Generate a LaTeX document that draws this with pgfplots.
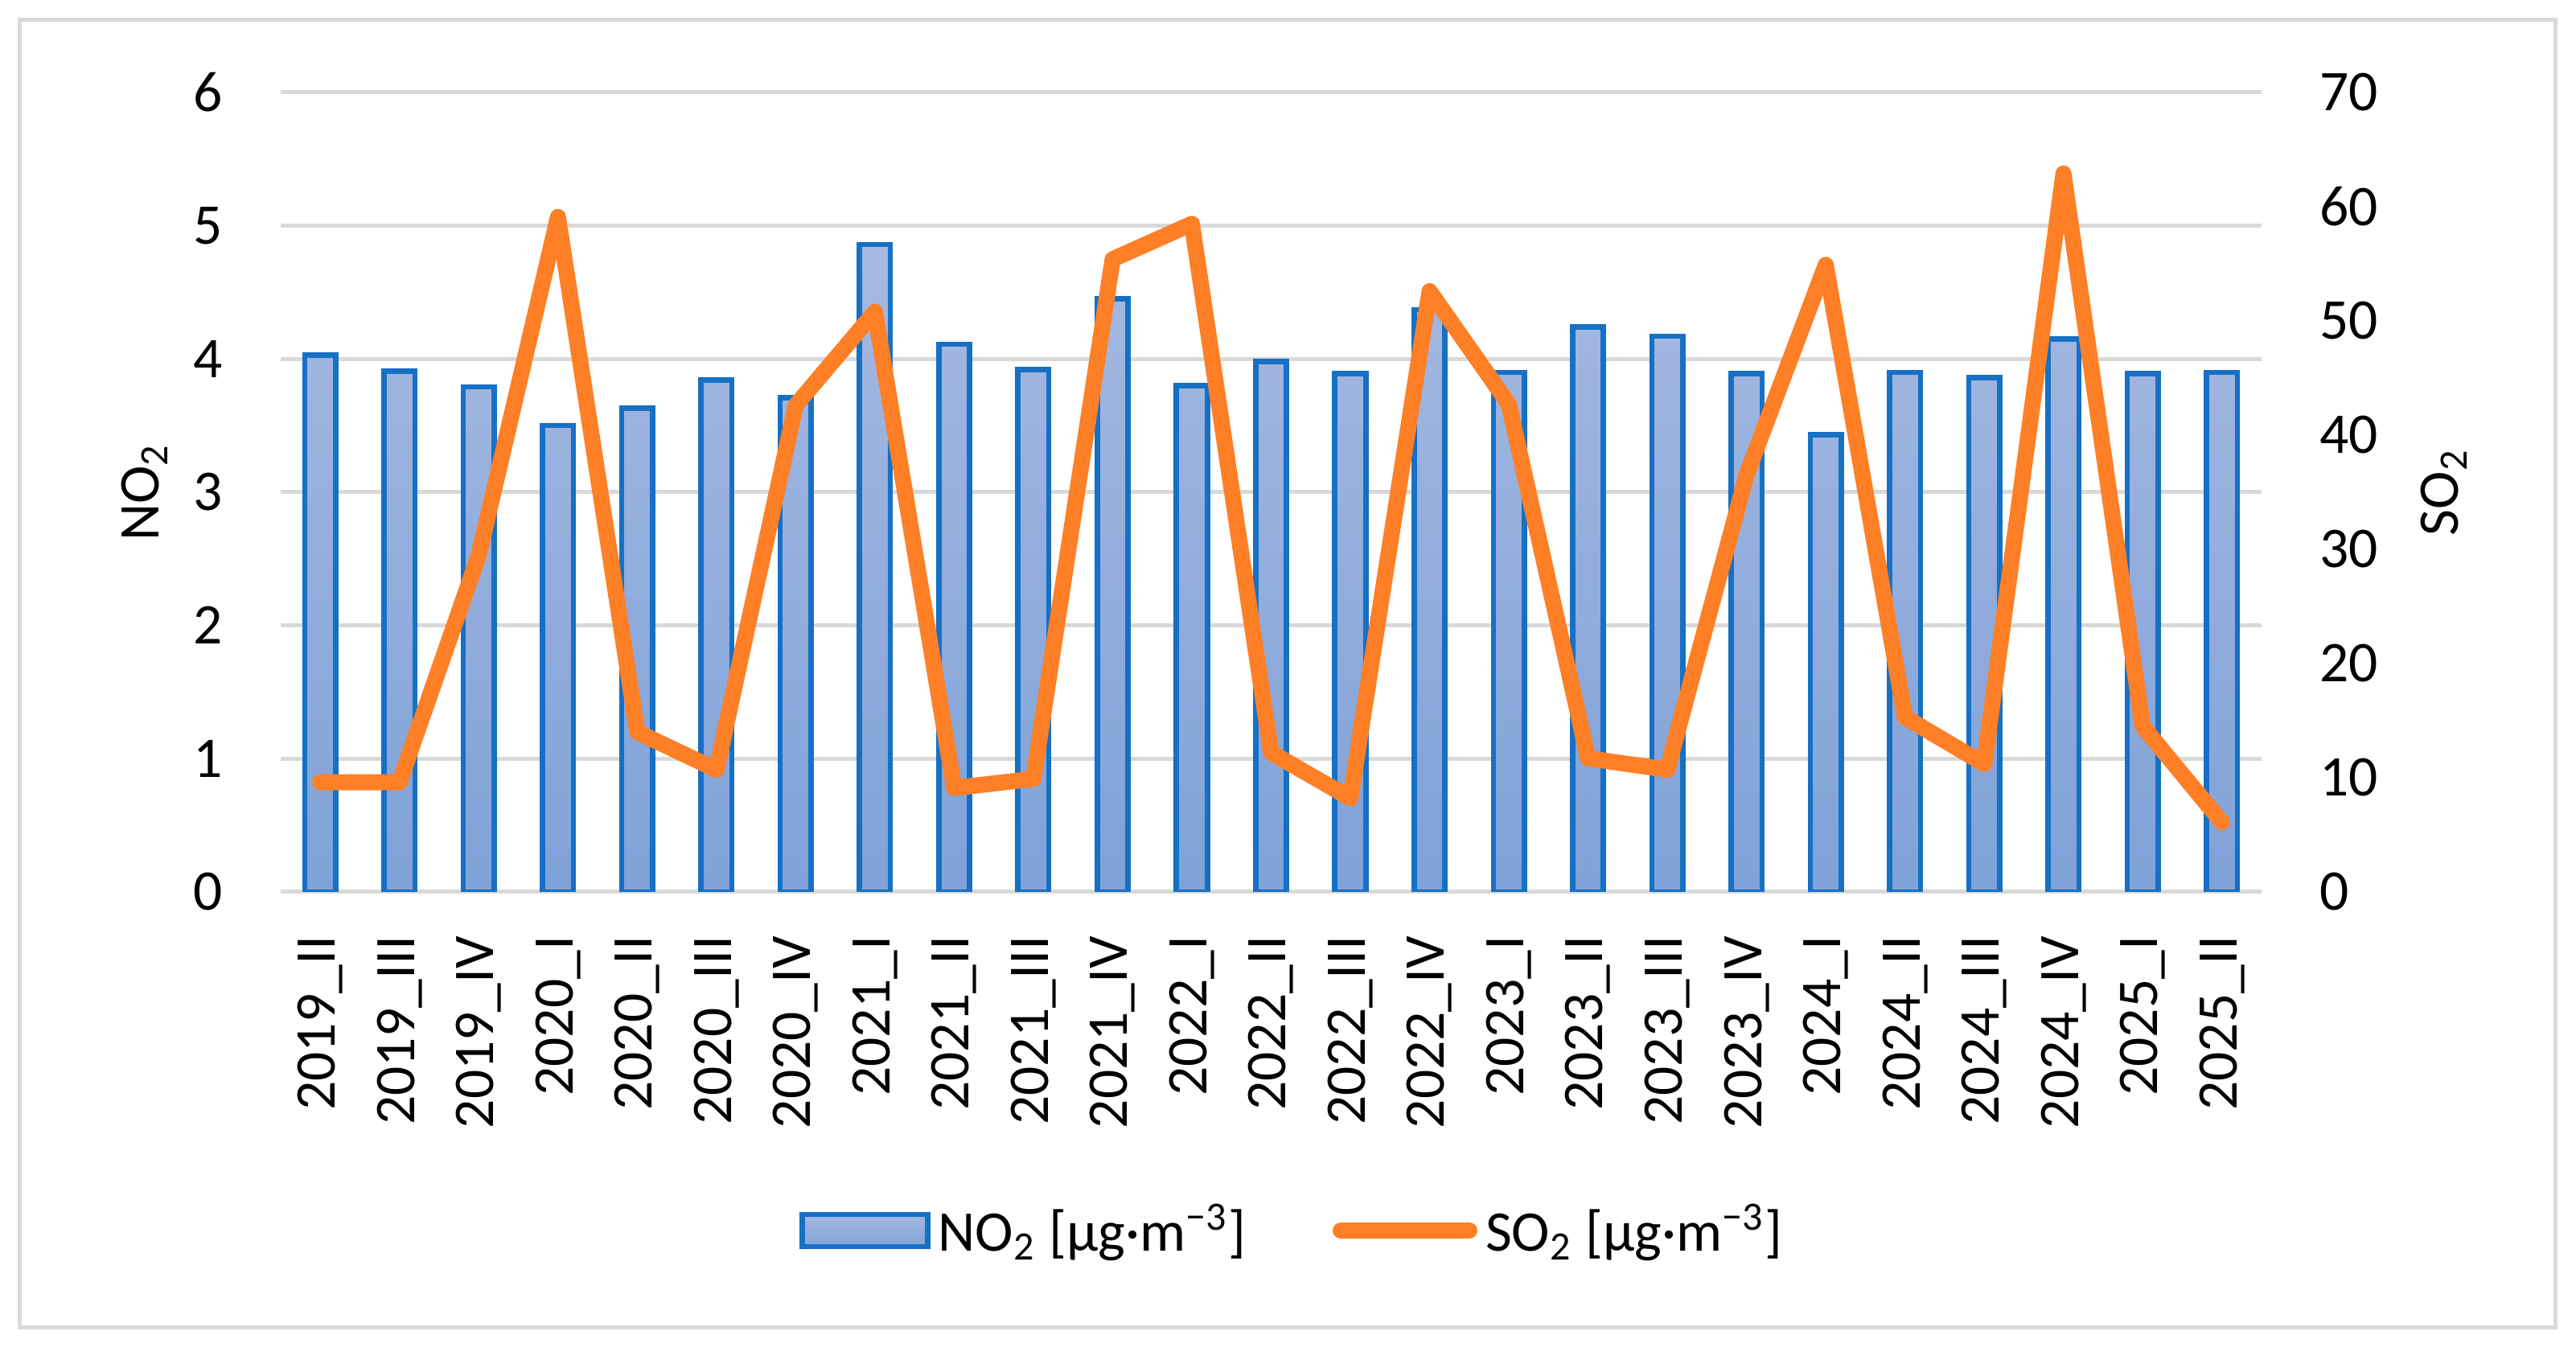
\documentclass[border=0pt]{standalone}
\usepackage{fontspec}
\setmainfont{Carlito}
\usepackage{pgfplots}
\usepackage{pgfplotstable}
\pgfplotsset{compat=1.18}

\definecolor{barline}{HTML}{1670C4}
\definecolor{bartop}{HTML}{A6B9E1}
\definecolor{barbot}{HTML}{7FA2D8}
\definecolor{sotwo}{HTML}{FE7F26}
\definecolor{gridgray}{HTML}{D9D9D9}
\newcommand{\lbl}{\fontsize{14.3}{17}\selectfont}

\pgfplotsset{
  common/.style={
    at={(69.8pt,114.4pt)}, anchor=south west,
    scale only axis, width=492.6pt, height=198.8pt,
    xmin=-0.5, xmax=24.5,
    axis line style={draw=none},
    major tick length=0pt,
    tick label style={font=\lbl},
    /pgf/number format/assume math mode=true,
    label style={font=\lbl},
  },
  barstyle/.style={draw=barline, line width=1.33pt, top color=bartop, bottom color=barbot},
  barlegend/.style={legend image code/.code={\draw[##1] (0pt,-4pt) rectangle (31.2pt,4pt);}},
  linelegend/.style={legend image code/.code={\draw[##1] (1.8pt,0pt) -- (33.8pt,0pt);}},
}

% quarter index, NO2 (left axis), SO2 (right axis)
\pgfplotstableread{
x no2  so2
0  4.03 9.6
1  3.91 9.6
2  3.79 29.5
3  3.50 59.1
4  3.63 14.0
5  3.84 10.7
6  3.71 42.6
7  4.86 50.8
8  4.11 9.1
9  3.92 9.9
10 4.45 55.4
11 3.80 58.5
12 3.98 12.2
13 3.89 8.2
14 4.37 52.6
15 3.90 42.7
16 4.24 11.7
17 4.17 10.7
18 3.89 36.5
19 3.43 54.9
20 3.90 15.3
21 3.86 11.2
22 4.15 62.9
23 3.89 14.5
24 3.90 6.1
}\data

\begin{document}
\begin{tikzpicture}
\useasboundingbox (0,0) rectangle (640.6pt,336.2pt);
\draw[gridgray, line width=1pt] (4.8pt,6pt) rectangle (635.4pt,331.2pt);
\begin{axis}[common,
  ymin=0, ymax=6, ytick={0,...,6},
  ymajorgrids, grid style={gridgray, line width=1pt},
  xtick={0,...,24},
  xticklabels={2019\_II,2019\_III,2019\_IV,2020\_I,2020\_II,2020\_III,2020\_IV,
    2021\_I,2021\_II,2021\_III,2021\_IV,2022\_I,2022\_II,2022\_III,2022\_IV,
    2023\_I,2023\_II,2023\_III,2023\_IV,2024\_I,2024\_II,2024\_III,2024\_IV,
    2025\_I,2025\_II},
  xticklabel style={rotate=90, anchor=east, inner sep=0pt},
  xticklabel shift=10.8pt,
  yticklabel style={anchor=east, inner sep=0pt, xshift=-14.2pt},
  ylabel={NO\textsubscript{2}},
  ylabel style={at={([xshift=-33.8pt]axis description cs:0,0.5)}, anchor=center},
]
\addplot[ybar, bar width=0.39, barstyle] table[x=x, y=no2] {\data};
\end{axis}

\begin{axis}[common,
  ymin=0, ymax=70, ytick={0,10,...,70},
  axis y line*=right, hide x axis,
  yticklabel style={anchor=west, inner sep=0pt, xshift=14.2pt},
  ylabel={SO\textsubscript{2}},
  ylabel style={at={([xshift=45.4pt]axis description cs:1,0.5)}, anchor=center},
  legend style={draw=none, fill=none, at={(0.512,-0.4235)}, anchor=center,
    legend columns=2, font=\lbl,
    /tikz/every even column/.append style={column sep=19.6pt}},
]
\addlegendimage{barstyle, barlegend}
\addlegendentry{NO\textsubscript{2} [µg·m\textsuperscript{−3}]}
\addplot[sotwo, line width=4pt, line cap=round, line join=round, linelegend]
  table[x=x, y=so2] {\data};
\addlegendentry{SO\textsubscript{2} [µg·m\textsuperscript{−3}]}
\end{axis}
\end{tikzpicture}
\end{document}
